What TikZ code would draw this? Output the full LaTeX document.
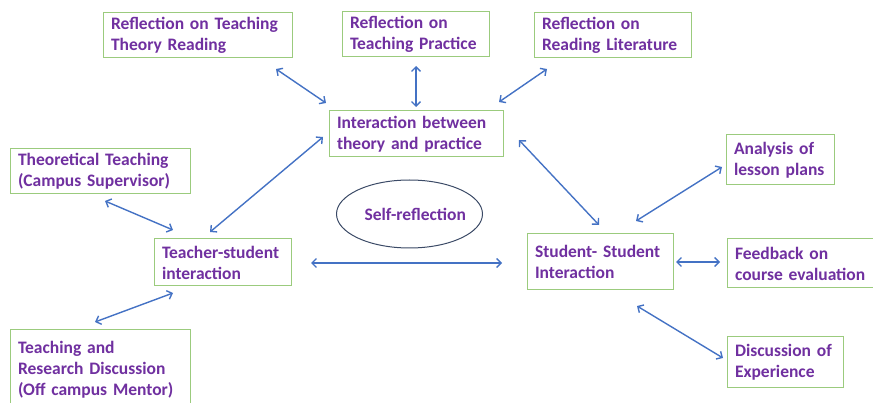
\documentclass[tikz,border=0pt]{standalone}
\usepackage{fontspec}
\setmainfont{Carlito}
\usetikzlibrary{arrows.meta,shapes.geometric}
\definecolor{txtpurple}{HTML}{7030A0}
\definecolor{boxgreen}{HTML}{9BCB7D}
\definecolor{arrblue}{HTML}{4472C4}
\definecolor{ellblue}{HTML}{3B4A66}
\begin{document}
\begin{tikzpicture}[x=1pt,y=-1pt,
  box/.style={draw=boxgreen, line width=1pt, fill=white, text=txtpurple,
    font=\fontsize{17.5}{21}\selectfont\bfseries, align=left,
    inner xsep=8pt, inner ysep=0pt},
  ell/.style={ellipse, draw=ellblue, line width=1pt, text=txtpurple,
    font=\fontsize{17.5}{21}\selectfont\bfseries, inner sep=0pt},
  arr/.style={draw=arrblue, line width=1.4pt,
    {Straight Barb[length=4.5pt,width=9pt]}-{Straight Barb[length=4.5pt,width=9pt]}}]
\useasboundingbox (0,0) rectangle (873,403);
\clip (0,0) rectangle (873,403);

% nodes
\node[box, text width=173pt, minimum height=45pt] (b1) at (197.5,35.5) {Reflection~on~Teaching\\Theory~Reading};
\node[box, text width=131pt, minimum height=45pt] (b2) at (415.5,34.5) {Reflection~on\\Teaching~Practice};
\node[box, text width=141pt, minimum height=45pt] (b3) at (612.5,35.5) {Reflection~on\\Reading~Literature};
\node[box, text width=158pt, minimum height=46pt] (b4) at (416,134) {Interaction~between\\theory~and~practice};
\node[box, text width=164pt, minimum height=45pt] (b5) at (100,171.5) {Theoretical~Teaching\\(Campus~Supervisor)};
\node[box, text width=92pt, minimum height=50pt] (b6) at (780,160) {Analysis~of\\lesson~plans};
\node[box, text width=121pt, minimum height=47pt] (b7) at (222.5,262.5) {Teacher-student\\interaction};
\node[box, text width=164pt, minimum height=79pt] (b8) at (100,369.5) {Teaching~and\\Research~Discussion\\(Off~campus~Mentor)};
\node[ell, minimum width=146pt, minimum height=68pt] (self) at (409.5,214) {\rlap{\hspace*{-45pt}Self-reflection}};
\node[box, text width=130pt, minimum height=56pt] (b10) at (600,262) {Student-~Student\\Interaction};
\node[box, text width=137pt, minimum height=49pt] (b11) at (803.5,263.5) {Feedback~on\\course~evaluation};
\node[box, text width=100pt, minimum height=50pt] (b12) at (785,362) {Discussion~of\\Experience};

% connector end points
\coordinate (c1a) at (276,69);  \coordinate (c1b) at (326,103);
\coordinate (c2a) at (416,66);  \coordinate (c2b) at (416,107);
\coordinate (c3a) at (547,69);  \coordinate (c3b) at (499,102);
\coordinate (c4a) at (210,232); \coordinate (c4b) at (323,137);
\coordinate (c5a) at (105,201); \coordinate (c5b) at (173,230);
\coordinate (c6a) at (173,293); \coordinate (c6b) at (95,322);
\coordinate (c7a) at (311,263); \coordinate (c7b) at (502,263);
\coordinate (c8a) at (519,140); \coordinate (c8b) at (599,225);
\coordinate (c9a) at (722,167); \coordinate (c9b) at (636,221);
\coordinate (c10a) at (676,262); \coordinate (c10b) at (720,262);
\coordinate (c11a) at (637,306); \coordinate (c11b) at (723,358);

\draw[arr] (c1a) -- (c1b);
\draw[arr] (c2a) -- (c2b);
\draw[arr] (c3a) -- (c3b);
\draw[arr] (c4a) -- (c4b);
\draw[arr] (c5a) -- (c5b);
\draw[arr] (c6a) -- (c6b);
\draw[arr] (c7a) -- (c7b);
\draw[arr] (c8a) -- (c8b);
\draw[arr] (c9a) -- (c9b);
\draw[arr] (c10a) -- (c10b);
\draw[arr] (c11a) -- (c11b);
\end{tikzpicture}
\end{document}
